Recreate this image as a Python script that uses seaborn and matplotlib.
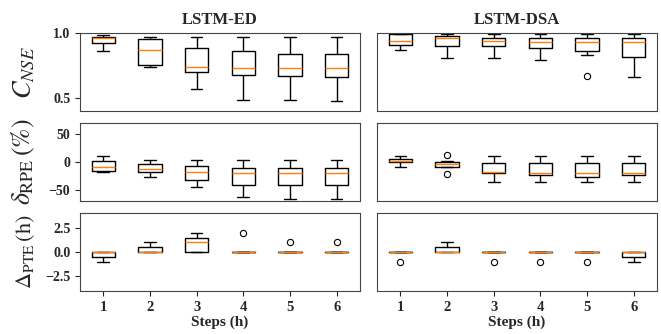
import pandas as pd
import matplotlib
matplotlib.use("Agg")
import matplotlib.pyplot as plt
import seaborn as sns

# Forecast steps (h)
steps = [1, 2, 3, 4, 5, 6]
models = ["LSTM-ED", "LSTM-DSA"]

# C_NSE per step (one list of event values per step)
nse_ed = [
    [0.862, 0.890, 0.922, 0.940, 0.961, 0.966, 0.971, 0.978, 0.984],
    [0.740, 0.745, 0.753, 0.820, 0.870, 0.920, 0.956, 0.965, 0.971],
    [0.568, 0.640, 0.703, 0.720, 0.740, 0.820, 0.885, 0.930, 0.971],
    [0.487, 0.600, 0.682, 0.700, 0.729, 0.800, 0.867, 0.920, 0.971],
    [0.487, 0.580, 0.667, 0.700, 0.729, 0.790, 0.844, 0.910, 0.971],
    [0.474, 0.570, 0.661, 0.690, 0.729, 0.780, 0.839, 0.910, 0.971],
]
nse_dsa = [
    [0.875, 0.890, 0.911, 0.930, 0.943, 0.970, 0.992, 0.995, 0.997],
    [0.812, 0.860, 0.901, 0.940, 0.966, 0.972, 0.979, 0.990, 0.997],
    [0.812, 0.860, 0.901, 0.920, 0.943, 0.955, 0.964, 0.980, 0.997],
    [0.794, 0.850, 0.885, 0.910, 0.932, 0.950, 0.964, 0.980, 0.997],
    [0.667, 0.833, 0.865, 0.900, 0.932, 0.950, 0.964, 0.980, 0.997],
    [0.659, 0.750, 0.820, 0.880, 0.932, 0.950, 0.964, 0.980, 0.997],
]

# delta_RPE (%) per step
rpe_ed = [
    [-18.2, -17.0, -16.4, -12.0, -7.9, -3.0, 1.8, 6.0, 10.3],
    [-26.1, -22.0, -18.2, -15.0, -11.5, -8.0, -4.2, 0.0, 3.0],
    [-45.5, -38.0, -32.1, -25.0, -17.6, -12.0, -6.1, -1.0, 3.0],
    [-62.4, -50.0, -41.8, -30.0, -19.4, -15.0, -9.7, -3.0, 3.0],
    [-66.1, -52.0, -41.8, -30.0, -19.4, -15.0, -9.7, -3.0, 3.0],
    [-66.1, -52.0, -41.8, -30.0, -19.4, -15.0, -9.7, -3.0, 3.0],
]
rpe_dsa = [
    [-7.9, -3.0, 0.0, 1.0, 1.8, 3.0, 5.5, 8.0, 10.3],
    [-21.8, -8.5, -7.9, -6.0, -4.2, -2.0, 0.0, 2.4, 13.3],
    [-35.0, -25.0, -19.5, -19.0, -18.5, -10.0, -2.4, 4.0, 10.3],
    [-35.0, -28.0, -23.0, -21.0, -20.0, -10.0, -2.4, 4.0, 10.3],
    [-35.0, -30.0, -26.0, -22.0, -20.0, -10.0, -2.4, 4.0, 10.3],
    [-35.0, -28.0, -23.0, -21.0, -20.0, -10.0, -2.4, 4.0, 10.3],
]

# Delta_PTE (h) per step
pte_ed = [
    [-1, -1, 0, 0, 0, 0, 0],
    [0, 0, 0, 0, 0, 1, 1],
    [0, 0, 0, 1, 1, 2, 2],
    [0, 0, 0, 0, 0, 0, 2],
    [0, 0, 0, 0, 0, 0, 1],
    [0, 0, 0, 0, 0, 0, 1],
]
pte_dsa = [
    [-1, 0, 0, 0, 0, 0, 0],
    [0, 0, 0, 0, 0, 1, 1],
    [-1, 0, 0, 0, 0, 0, 0],
    [-1, 0, 0, 0, 0, 0, 0],
    [-1, 0, 0, 0, 0, 0, 0],
    [-1, -1, 0, 0, 0, 0, 0],
]

metrics = [
    (r"$C_{NSE}$", nse_ed, nse_dsa, (0.4, 1.0), [0.5, 1.0], "{:.1f}", 19),
    (r"$\delta_{\rm RPE}\,(\%)$", rpe_ed, rpe_dsa, (-70, 70), [-50, 0, 50], "{:.0f}", 18.5),
    (r"$\Delta_{\rm PTE}\,(\rm h)$", pte_ed, pte_dsa, (-4, 4), [-2.5, 0.0, 2.5], "{:.1f}", 16),
]


def to_long(per_step):
    rows = []
    for s, vals in zip(steps, per_step):
        for v in vals:
            rows.append({"step": s, "value": v})
    return pd.DataFrame(rows)


sns.set_style("ticks")
plt.rcParams["font.family"] = ["Liberation Serif", "DejaVu Serif"]
plt.rcParams["mathtext.fontset"] = "stix"

fig, axes = plt.subplots(3, 2, figsize=(6.61, 3.34), dpi=100, sharex=True, sharey="row")
fig.subplots_adjust(left=0.121, right=0.994, top=0.900, bottom=0.129,
                    wspace=0.061, hspace=0.16)

box_kw = dict(
    width=0.5, fill=False, color="black", linewidth=1,
    medianprops=dict(color="#ff7f0e", linewidth=1),
    flierprops=dict(marker="o", markerfacecolor="none", markeredgecolor="black",
                    markersize=4.5, markeredgewidth=0.8),
)

for r, (label, left_data, right_data, ylim, yticks, fmt, lsize) in enumerate(metrics):
    for c, data in enumerate([left_data, right_data]):
        ax = axes[r, c]
        df = to_long(data)
        sns.boxplot(data=df, x="step", y="value", order=steps, ax=ax, **box_kw)
        ax.set_ylim(*ylim)
        ax.set_xlim(-0.5, 5.5)
        ax.set_xlabel("")
        ax.set_ylabel("")
        for s in ax.spines.values():
            s.set_visible(True)
            s.set_color("#444444")
        if c == 0:
            ax.set_yticks(yticks)
            ax.set_yticklabels([fmt.format(t).replace("-", "\u2212") for t in yticks],
                               fontsize=10, fontweight="bold")
            ax.set_ylabel(label, fontsize=lsize, labelpad=6)
        else:
            ax.tick_params(axis="y", left=False, labelleft=False)
        if r < 2:
            ax.tick_params(axis="x", bottom=False, labelbottom=False)
        else:
            ax.set_xticks(range(len(steps)))
            ax.set_xticklabels([str(s) for s in steps], fontsize=10.5, fontweight="bold")
            ax.set_xlabel("Steps (h)", fontsize=11, fontweight="bold", labelpad=1)
        if r == 0:
            ax.set_title(models[c], fontsize=12, fontweight="bold", pad=7)

fig.align_ylabels(axes[:, 0])
plt.savefig("out.png", dpi=100)
